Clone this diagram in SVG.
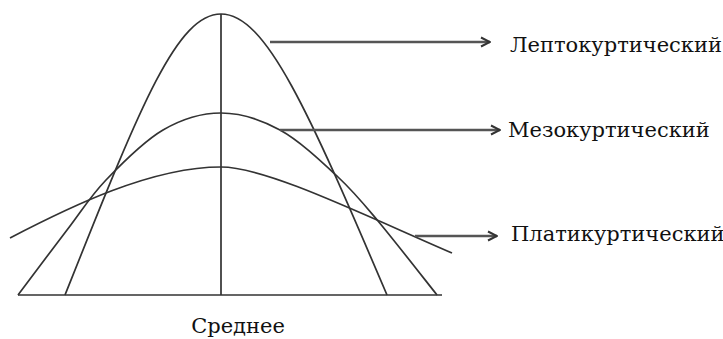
<svg xmlns="http://www.w3.org/2000/svg" width="723" height="339" viewBox="0 0 723 339">
<defs>
<marker id="arr" viewBox="0 0 12 12" refX="11" refY="6" markerWidth="12" markerHeight="12" markerUnits="userSpaceOnUse" orient="auto">
<path d="M2,1.5 L11,6 L2,10.5" fill="none" stroke="#333" stroke-width="2"/>
</marker>
</defs>
<style>
.c{fill:none;stroke:#333;stroke-width:1.7}
.a{fill:none;stroke:#555;stroke-width:2.4;marker-end:url(#arr)}
.t{font-family:"DejaVu Serif","Liberation Serif",serif;font-size:21px;fill:#111}
</style>
<g id="axes">
<path class="c" d="M18,295 H442 M221,14 V295"/>
</g>
<g id="curves">
<path id="lepto" class="c" d="M65,295 C139.2,109.4 176,14 221,14 C266,14 308.4,111 387,295"/>
<path id="meso" class="c" d="M18,295 C26.2,284.2 52.3,249.2 67,230 C81.7,210.8 90,196.7 106,180 C122,163.3 143.8,141.2 163,130 C182.2,118.8 201.3,113 221,113 C240.7,113 260.5,119.3 280,130 C299.5,140.7 321.7,161.8 338,177 C354.3,192.2 361.5,201.3 378,221 C394.5,240.7 427.2,282.7 437,295"/>
<path id="platy" class="c" d="M10,238 C70,206.8 151,167 221,167 C266,167 360.2,213.3 452,253"/>
</g>
<g id="connectors">
<path class="a" d="M270,42 H490"/>
<path class="a" d="M280,130 H500"/>
<path class="a" d="M415,236 H497"/>
</g>
<g id="label-lepto"><text class="t" x="510" y="52">Лептокуртический</text></g>
<g id="label-meso"><text class="t" x="508" y="137">Мезокуртический</text></g>
<g id="label-platy"><text class="t" x="511" y="241">Платикуртический</text></g>
<g id="label-mean"><text class="t" x="238" y="333" text-anchor="middle">Среднее</text></g>
</svg>
